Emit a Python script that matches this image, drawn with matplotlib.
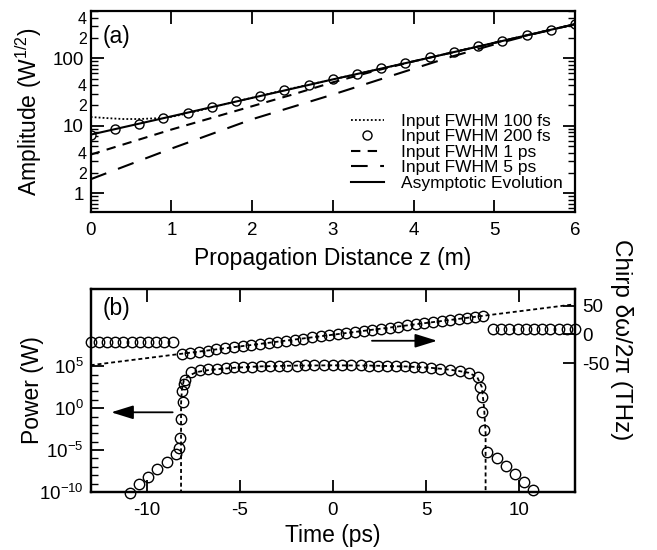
import numpy as np
import matplotlib
matplotlib.use("Agg")
import matplotlib.pyplot as plt
from matplotlib.ticker import FixedLocator, FixedFormatter, NullFormatter

plt.rcParams['font.family'] = ['Liberation Sans', 'DejaVu Sans']
plt.rcParams['mathtext.fontset'] = 'custom'
plt.rcParams['mathtext.rm'] = 'Liberation Sans'
plt.rcParams['mathtext.it'] = 'Liberation Sans:italic'

# ---------------- Panel (a) data ----------------
z_asym = [0, 1, 2, 3, 4, 5, 6]
amp_asym = [7.4, 13.8, 25.9, 48.6, 90, 169, 319]

z_100fs = [0, 0.2, 0.4, 0.6, 0.8, 1.0, 1.2, 1.5, 2.0, 2.5, 3.0, 3.5, 4.0, 4.5, 5.0, 5.5, 6.0]
amp_100fs = [13.5, 13.0, 12.6, 12.6, 12.9, 13.6, 15.2, 18.8, 26, 36, 48.6, 66, 90, 124, 169, 232, 319]

z_200fs = [0, 0.3, 0.6, 0.9, 1.2, 1.5, 1.8, 2.1, 2.4, 2.7, 3.0, 3.3, 3.6, 3.9, 4.2, 4.5, 4.8, 5.1, 5.4, 5.7, 6.0]
amp_200fs = [7.2, 8.9, 10.8, 13.0, 15.7, 19.0, 22.9, 27.6, 33.3, 40.2, 48.6, 58.6, 70.7, 85.4, 103, 124, 150, 181, 219, 264, 319]

z_1ps = [0, 1, 2, 2.5, 3, 3.5, 4, 5, 6]
amp_1ps = [3.75, 8.8, 19.5, 29, 44, 64, 90, 169, 319]

z_5ps = [0, 1, 2, 3, 4, 4.5, 5, 5.5, 6]
amp_5ps = [1.62, 4.6, 12.5, 29, 70, 108, 160, 230, 319]

legend_labels = ["Input FWHM 100 fs", "Input FWHM 200 fs", "Input FWHM 1 ps",
                 "Input FWHM 5 ps", "Asymptotic Evolution"]

# ---------------- Panel (b) data ----------------
# power circles: time (ps) and log10 of power (W)
t_power = [-10.87, -10.39, -9.94, -9.46, -8.92, -8.41, -8.27, -8.23, -8.14, -8.06, -8.09, -8.0, -7.96,
           -7.6, -7.15, -6.7, -6.2, -5.75, -5.3, -4.8, -4.35, -3.85, -3.4, -2.9, -2.45, -1.95, -1.5,
           -1.0, -0.5, 0.0, 0.5, 1.0, 1.5, 1.95, 2.45, 2.9, 3.4, 3.85, 4.35, 4.8, 5.25, 5.77, 6.3,
           6.8, 7.29, 7.78, 7.92, 8.01, 8.01, 8.14, 8.28, 8.82, 9.27, 9.8, 10.25, 10.76]
logp_power = [-10.1, -9.1, -8.2, -7.3, -6.4, -5.5, -4.8, -3.6, -1.3, 0.7, 2.0, 2.9, 3.4,
              4.25, 4.5, 4.62, 4.72, 4.8, 4.86, 4.91, 4.95, 4.99, 5.02, 5.04, 5.06, 5.08, 5.09,
              5.1, 5.1, 5.1, 5.1, 5.1, 5.09, 5.08, 5.06, 5.04, 5.01, 4.98, 4.93, 4.88, 4.81, 4.69, 4.57,
              4.41, 4.21, 3.69, 2.5, 1.31, -0.48, -2.65, -5.24, -6.0, -6.9, -7.9, -8.8, -9.8]

# power curve (dotted)
t_power_line = [-8.15, -8.15, -8.1, -8.0, -7.75, -7.3, -6.8, -6.3, -5.8, -5.2, -4.0, -2.0, 0.0,
                2.0, 4.0, 5.2, 5.8, 6.3, 6.8, 7.3, 7.75, 8.0, 8.12, 8.2, 8.2]
logp_power_line = [-11, 0.5, 2.3, 3.3, 3.85, 4.3, 4.5, 4.62, 4.72, 4.82, 4.97, 5.07, 5.1,
                   5.07, 4.96, 4.82, 4.69, 4.57, 4.41, 4.21, 3.7, 2.5, 0.0, -3.0, -11]

# chirp circles (THz)
t_chirp_left = [-13.0, -12.56, -12.12, -11.68, -11.24, -10.8, -10.36, -9.92, -9.48, -9.04, -8.6]
chirp_left = [-14, -14, -14, -14, -14, -14, -14, -14, -14, -14, -14]
t_chirp_mid = [-8.1, -7.65, -7.2, -6.7, -6.25, -5.8, -5.3, -4.85, -4.4, -3.9, -3.45, -3.0, -2.5,
               -2.05, -1.6, -1.1, -0.65, -0.2, 0.25, 0.7, 1.2, 1.65, 2.1, 2.6, 3.05, 3.5, 4.0,
               4.45, 4.9, 5.35, 5.85, 6.3, 6.75, 7.2, 7.65, 8.07]
chirp_mid = [-33.6, -31.8, -30.0, -28.0, -26.1, -24.3, -22.2, -20.4, -18.5, -16.5, -14.6, -12.8, -10.8,
             -8.9, -7.1, -5.0, -3.2, -1.3, 0.5, 2.3, 4.3, 6.2, 8.0, 10.0, 11.9, 13.7, 15.7,
             17.5, 19.4, 21.2, 23.3, 25.1, 26.9, 28.8, 30.6, 32.3]
t_chirp_right = [8.6, 9.04, 9.48, 9.92, 10.36, 10.8, 11.24, 11.68, 12.12, 12.56, 13.0]
chirp_right = [9, 9, 9, 9, 9, 9, 9, 9, 9, 9, 9]

t_chirp_line = [-13.0, 13.0]
chirp_line = [-53.5, 52.5]

# ---------------- Figure ----------------
fig = plt.figure(figsize=(6.57, 5.5), dpi=100)
W, H = 657.0, 550.0
L, R = 90.7 / W, 575.0 / W
axa = fig.add_axes([L, 1 - 212 / H, R - L, (212 - 11) / H])
axb = fig.add_axes([L, 1 - 492 / H, R - L, (492 - 289) / H])

lw_spine = 1.6
for ax in (axa, axb):
    for s in ax.spines.values():
        s.set_linewidth(lw_spine)

# ----- panel (a)
h1, = axa.plot(z_100fs, amp_100fs, color='black', lw=1.3, linestyle=(0, (1, 1.2)))
h2, = axa.plot(z_200fs, amp_200fs, linestyle='none', marker='o', ms=6.5, mfc='white',
               mec='black', mew=1.0)
h3, = axa.plot(z_1ps, amp_1ps, color='black', lw=1.5, linestyle=(0, (4.5, 3.5)))
h4, = axa.plot(z_5ps, amp_5ps, color='black', lw=1.5, linestyle=(0, (8, 6)))
h5, = axa.plot(z_asym, amp_asym, color='black', lw=1.5)
axa.set_zorder(2)
axa.set_yscale('log')
axa.set_xlim(0, 6)
axa.set_ylim(0.53, 500)
axa.set_xticks([0, 1, 2, 3, 4, 5, 6])
axa.yaxis.set_major_locator(FixedLocator([1, 10, 100]))
axa.yaxis.set_major_formatter(FixedFormatter(['1', '10', '100']))
minors = [m * 10.0 ** e for e in (-1, 0, 1, 2) for m in range(2, 10)]
minors = [v for v in minors if 0.53 <= v <= 500]
minor_labels = [('2' if abs(v / 10 ** np.floor(np.log10(v)) - 2) < 1e-6 else
                 '4' if abs(v / 10 ** np.floor(np.log10(v)) - 4) < 1e-6 else '') for v in minors]
axa.yaxis.set_minor_locator(FixedLocator(minors))
axa.yaxis.set_minor_formatter(FixedFormatter(minor_labels))
axa.tick_params(axis='both', which='major', direction='in', length=9, width=1.3,
                top=True, right=True, labelsize=13.5, pad=5)
axa.tick_params(axis='x', which='major', pad=7)
axa.tick_params(axis='y', which='minor', direction='in', length=5, width=1.0,
                right=True, labelsize=11.5, pad=3)
axa.tick_params(axis='x', which='minor', bottom=False, top=False)
axa.set_xlabel('Propagation Distance z (m)', fontsize=16.5, labelpad=6)
axa.set_ylabel('Amplitude (W$^{1/2}$)', fontsize=16.5)
axa.yaxis.set_label_coords(-0.097, 0.5)
axa.text(0.025, 0.93, '(a)', transform=axa.transAxes, fontsize=16.5, ha='left', va='top')
leg = axa.legend([h1, h2, h3, h4, h5], legend_labels, loc='lower right',
                 bbox_to_anchor=(0.975, 0.105), frameon=False, fontsize=12.5,
                 handlelength=1.9, handletextpad=1.0, labelspacing=0.02, borderpad=0,
                 borderaxespad=0, numpoints=1)

# ----- panel (b)
axb.plot(t_power_line, 10.0 ** np.array(logp_power_line), color='black', lw=1.3,
         linestyle=(0, (2.2, 1.6)))
axb.plot(t_power, 10.0 ** np.array(logp_power), linestyle='none', marker='o', ms=7.5,
         mfc='none', mec='black', mew=1.0, clip_on=False)
axb.set_yscale('log')
axb.set_xlim(-13, 13)
axb.set_ylim(1e-10, 10 ** 14.2)
axb.set_xticks([-10, -5, 0, 5, 10])
axb.set_xticklabels(['-10', '-5', '0', '5', '10'])
axb.yaxis.set_major_locator(FixedLocator([1e-10, 1e-5, 1e0, 1e5]))
axb.yaxis.set_major_formatter(FixedFormatter(['$10^{-10}$', '$10^{-5}$', '$10^{0}$', '$10^{5}$']))
axb.yaxis.set_minor_locator(FixedLocator([10.0 ** k for k in range(-9, 5) if k % 5 != 0]))
axb.yaxis.set_minor_formatter(NullFormatter())
axb.tick_params(axis='both', which='major', direction='in', length=9, width=1.3,
                top=True, right=False, labelsize=13.5, pad=5)
axb.tick_params(axis='x', which='major', pad=7)
axb.tick_params(axis='y', which='minor', direction='in', length=5, width=1.0, right=False)
axb.tick_params(axis='x', which='minor', bottom=False, top=False)
axb.set_xlabel('Time (ps)', fontsize=16.5, labelpad=4)
axb.set_ylabel('Power (W)', fontsize=16.5)
axb.yaxis.set_label_coords(-0.097, 0.5)
axb.text(0.025, 0.96, '(b)', transform=axb.transAxes, fontsize=16.5, ha='left', va='top')
axb.annotate('', xy=(-11.9, 10 ** -0.5), xytext=(-8.6, 10 ** -0.5),
             arrowprops=dict(arrowstyle='-|>,head_length=0.9,head_width=0.28',
                             mutation_scale=15, color='black', lw=1.3, shrinkA=0, shrinkB=0))

axc = axb.twinx()
axc.plot(t_chirp_line, chirp_line, color='black', lw=1.3, linestyle=(0, (2.2, 1.6)))
for tt, cc in ((t_chirp_left, chirp_left), (t_chirp_mid, chirp_mid), (t_chirp_right, chirp_right)):
    axc.plot(tt, cc, linestyle='none', marker='o', ms=7.5, mfc='none', mec='black', mew=1.0,
             clip_on=False)
axc.set_ylim(-274, 79)
axc.set_yticks([-50, 0, 50])
axc.set_yticklabels(['-50', '0', '50'])
axc.tick_params(axis='y', which='major', direction='in', length=9, width=1.3,
                labelsize=13.5, pad=5)
for s in axc.spines.values():
    s.set_linewidth(lw_spine)
axc.set_ylabel('Chirp δω/2π (THz)', fontsize=17.5, rotation=270, va='center')
axc.yaxis.set_label_coords(1.096, 0.75)
axc.annotate('', xy=(5.6, -11), xytext=(2.1, -11),
             arrowprops=dict(arrowstyle='-|>,head_length=0.9,head_width=0.28',
                             mutation_scale=15, color='black', lw=1.3, shrinkA=0, shrinkB=0))

fig.savefig('out.png', dpi=100)
